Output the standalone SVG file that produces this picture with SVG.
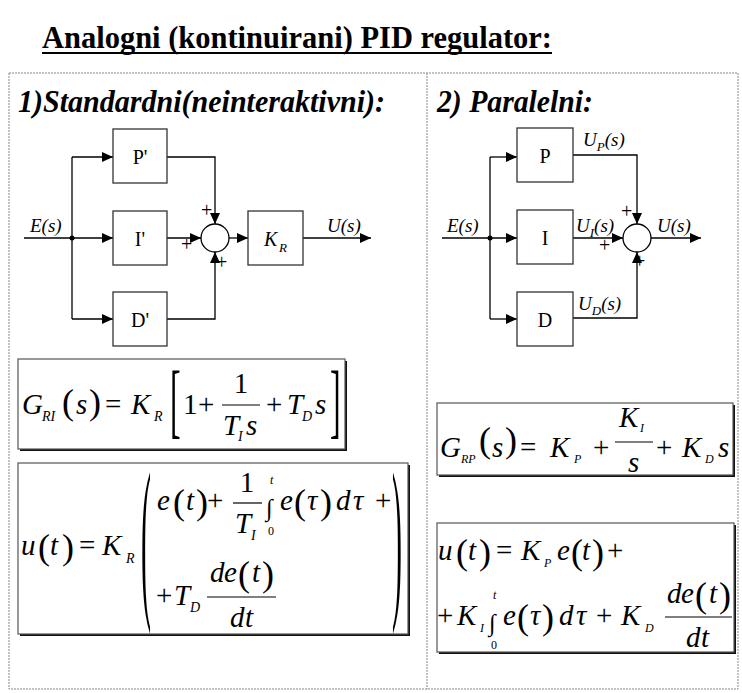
<svg xmlns="http://www.w3.org/2000/svg" width="742" height="693" viewBox="0 0 742 693" font-family="'Liberation Serif', 'Times New Roman', 'DejaVu Serif', serif">
<style>
.t{font-family:'Liberation Serif','Times New Roman','DejaVu Serif',serif;fill:#000}
.i{font-style:italic}
.b{font-weight:bold}
.m{font-size:29px}
.sb{font-size:14px}
.p{font-size:36px}
.bl{font-size:20px}
.lb{font-size:19px}
.pl{font-size:20px}
.box{fill:#fff;stroke:#333;stroke-width:1.3}
.fb{fill:#fff;stroke:#555;stroke-width:1.2}
.sh{fill:#111}
.ln{fill:none;stroke:#000;stroke-width:1.3}
.fr{fill:none;stroke:#888;stroke-width:1;stroke-dasharray:2 1}
.fl{stroke:#000;stroke-width:1.2}
</style>
<defs>
<marker id="ah" markerWidth="12" markerHeight="10" refX="11" refY="5" orient="auto" markerUnits="userSpaceOnUse">
<path d="M0,0 L11,5 L0,10 Z" fill="#000"/>
</marker>
</defs>
<rect width="742" height="693" fill="#fff"/>

<g id="title">
<text class="t b" x="42" y="48" font-size="31" font-weight="700" textLength="510" lengthAdjust="spacingAndGlyphs">Analogni (kontinuirani) PID regulator:</text>
<line x1="42" y1="53" x2="552" y2="53" stroke="#000" stroke-width="2.2"/>
</g>

<g id="frame">
<rect class="fr" x="9" y="73" width="729" height="616"/>
<line class="fr" x1="427" y1="73" x2="427" y2="689"/>
</g>

<g id="heading1"><text class="t b i" x="18" y="112" font-size="31" font-weight="700" font-style="italic" textLength="367" lengthAdjust="spacingAndGlyphs">1)Standardni(neinteraktivni):</text></g>
<g id="heading2"><text class="t b i" x="437" y="112" font-size="31" font-weight="700" font-style="italic" textLength="156" lengthAdjust="spacingAndGlyphs">2) Paralelni:</text></g>

<g id="connectors">
<path class="ln" d="M24 238 H113" marker-end="url(#ah)"/>
<path class="ln" d="M72 157 V319"/>
<path class="ln" d="M72 157 H113" marker-end="url(#ah)"/>
<path class="ln" d="M72 319 H113" marker-end="url(#ah)"/>
<path class="ln" d="M167 157 H215 V224" marker-end="url(#ah)"/>
<path class="ln" d="M167 238 H201" marker-end="url(#ah)"/>
<path class="ln" d="M167 319 H215 V252" marker-end="url(#ah)"/>
<path class="ln" d="M229 238 H248" marker-end="url(#ah)"/>
<path class="ln" d="M303 238 H371" marker-end="url(#ah)"/>
<circle cx="72" cy="238" r="2.5" fill="#000"/>

<path class="ln" d="M442 238 H517" marker-end="url(#ah)"/>
<path class="ln" d="M490 157 V319"/>
<path class="ln" d="M490 157 H517" marker-end="url(#ah)"/>
<path class="ln" d="M490 319 H517" marker-end="url(#ah)"/>
<path class="ln" d="M573 155 H637 V224" marker-end="url(#ah)"/>
<path class="ln" d="M573 238 H623" marker-end="url(#ah)"/>
<path class="ln" d="M573 318 H637 V252" marker-end="url(#ah)"/>
<path class="ln" d="M651 238 H701" marker-end="url(#ah)"/>
<circle cx="490" cy="238" r="2.5" fill="#000"/>
</g>

<g id="nodeP1"><rect class="box" x="113" y="129" width="54" height="54"/><text class="t bl" x="140" y="164" text-anchor="middle">P'</text></g>
<g id="nodeI1"><rect class="box" x="113" y="211" width="54" height="54"/><text class="t bl" x="140" y="246" text-anchor="middle">I'</text></g>
<g id="nodeD1"><rect class="box" x="113" y="292" width="54" height="54"/><text class="t bl" x="140" y="327" text-anchor="middle">D'</text></g>
<g id="sum1"><circle cx="215" cy="238" r="14" fill="#fff" stroke="#000" stroke-width="1.3"/>
<text class="t pl" x="201" y="217">+</text><text class="t pl" x="181" y="251">+</text><text class="t pl" x="216" y="269">+</text></g>
<g id="nodeKR"><rect class="box" x="248" y="211" width="55" height="54"/><text class="t i bl" x="264" y="246">K</text><text class="t i" font-size="13" x="279" y="252">R</text></g>
<g id="labels1">
<text class="t i lb" x="30" y="232">E(s)</text>
<text class="t i lb" x="327" y="232">U(s)</text>
</g>

<g id="nodeP2"><rect class="box" x="517" y="128" width="56" height="54"/><text class="t bl" x="545" y="163" text-anchor="middle">P</text></g>
<g id="nodeI2"><rect class="box" x="517" y="210" width="56" height="54"/><text class="t bl" x="545" y="245" text-anchor="middle">I</text></g>
<g id="nodeD2"><rect class="box" x="517" y="292" width="56" height="54"/><text class="t bl" x="545" y="327" text-anchor="middle">D</text></g>
<g id="sum2"><circle cx="637" cy="238" r="14" fill="#fff" stroke="#000" stroke-width="1.3"/>
<text class="t pl" x="621" y="218">+</text><text class="t pl" x="599" y="252">+</text><text class="t pl" x="634" y="268">+</text></g>
<g id="labels2">
<text class="t i lb" x="447" y="232">E(s)</text>
<text class="t i lb" x="583" y="146">U<tspan font-size="13" dy="5">P</tspan><tspan dy="-5">(s)</tspan></text>
<text class="t i lb" x="576" y="232">U<tspan font-size="13" dy="5">I</tspan><tspan dy="-5">(s)</tspan></text>
<text class="t i lb" x="657" y="232">U(s)</text>
<text class="t i lb" x="578" y="310">U<tspan font-size="13" dy="5">D</tspan><tspan dy="-5">(s)</tspan></text>
</g>

<g id="formulaG1">
<rect class="sh" x="20" y="361" width="327" height="90"/>
<rect class="fb" x="18" y="359" width="327" height="90"/>
<text class="t i m" x="22" y="414">G</text>
<text class="t i sb" x="42" y="421">RI</text>
<text class="t p" x="62" y="414">(</text>
<text class="t i m" x="76" y="414">s</text>
<text class="t p" x="89" y="414">)</text>
<text class="t m" x="105" y="414">=</text>
<text class="t i m" x="131" y="414">K</text>
<text class="t i sb" x="154" y="421">R</text>
<text class="t" font-size="32" transform="translate(170,428) scale(1,2.55)">[</text>
<text class="t m" x="183" y="414">1</text>
<text class="t m" x="198" y="414">+</text>
<text class="t m" x="241" y="393" text-anchor="middle">1</text>
<line class="fl" x1="222" y1="405" x2="260" y2="405"/>
<text class="t i m" x="223" y="435">T</text>
<text class="t i sb" x="238" y="441">I</text>
<text class="t i m" x="246" y="435">s</text>
<text class="t m" x="266" y="414">+</text>
<text class="t i m" x="287" y="414">T</text>
<text class="t i sb" x="302" y="421">D</text>
<text class="t i m" x="315" y="414">s</text>
<text class="t" font-size="32" transform="translate(330,428) scale(1,2.55)">]</text>
</g>

<g id="formulaU1">
<rect class="sh" x="20" y="465" width="390" height="171"/>
<rect class="fb" x="18" y="463" width="390" height="171"/>
<text class="t i m" x="21" y="555">u</text>
<text class="t p" x="38" y="559">(</text>
<text class="t i m" x="50" y="555">t</text>
<text class="t p" x="62" y="559">)</text>
<text class="t m" x="79" y="555">=</text>
<text class="t i m" x="102" y="555">K</text>
<text class="t i sb" x="126" y="563">R</text>
<text class="t" font-size="30" transform="translate(141,596) scale(1,5.9)">(</text>
<text class="t i m" x="157" y="510">e</text>
<text class="t p" x="173" y="514">(</text>
<text class="t i m" x="186" y="510">t</text>
<text class="t p" x="196" y="514">)</text>
<text class="t m" x="207" y="510">+</text>
<text class="t m" x="247" y="492" text-anchor="middle">1</text>
<line class="fl" x1="233" y1="503" x2="262" y2="503"/>
<text class="t i m" x="235" y="533">T</text>
<text class="t i sb" x="251" y="540">I</text>
<text class="t" font-size="24" x="266" y="516">∫</text>
<text class="t i" font-size="12" x="270" y="484">t</text>
<text class="t" font-size="12" x="268" y="535">0</text>
<text class="t i m" x="280" y="510">e</text>
<text class="t p" x="294" y="514">(</text>
<text class="t i m" x="307" y="510">τ</text>
<text class="t p" x="320" y="514">)</text>
<text class="t i m" x="336" y="510">d</text>
<text class="t i m" x="353" y="510">τ</text>
<text class="t m" x="375" y="510">+</text>
<text class="t m" x="156" y="605">+</text>
<text class="t i m" x="174" y="605">T</text>
<text class="t i sb" x="190" y="612">D</text>
<text class="t i m" x="210" y="582">d</text>
<text class="t i m" x="224" y="582">e</text>
<text class="t p" x="238" y="586">(</text>
<text class="t i m" x="252" y="582">t</text>
<text class="t p" x="262" y="586">)</text>
<line class="fl" x1="207" y1="597" x2="276" y2="597"/>
<text class="t i m" x="230" y="627">d</text>
<text class="t i m" x="245" y="627">t</text>
<text class="t" font-size="30" transform="translate(392,596) scale(1,5.9)">)</text>
</g>

<g id="formulaG2">
<rect class="sh" x="439" y="405" width="296" height="72"/>
<rect class="fb" x="437" y="403" width="296" height="72"/>
<text class="t i m" x="440" y="457">G</text>
<text class="t i" font-size="12" x="461" y="463">RP</text>
<text class="t p" x="479" y="452">(</text>
<text class="t i m" x="492" y="457">s</text>
<text class="t p" x="505" y="452">)</text>
<text class="t m" x="520" y="457">=</text>
<text class="t i m" x="550" y="457">K</text>
<text class="t i" font-size="12" x="574" y="463">P</text>
<text class="t m" x="593" y="457">+</text>
<text class="t i m" x="619" y="427">K</text>
<text class="t i" font-size="12" x="640" y="432">I</text>
<line class="fl" x1="615" y1="442" x2="653" y2="442"/>
<text class="t i m" x="628" y="472">s</text>
<text class="t m" x="656" y="457">+</text>
<text class="t i m" x="682" y="457">K</text>
<text class="t i" font-size="12" x="705" y="463">D</text>
<text class="t i m" x="718" y="457">s</text>
</g>

<g id="formulaU2">
<rect class="sh" x="439" y="525" width="297" height="129"/>
<rect class="fb" x="437" y="523" width="297" height="129"/>
<text class="t i m" x="438" y="560">u</text>
<text class="t p" x="456" y="564">(</text>
<text class="t i m" x="468" y="560">t</text>
<text class="t p" x="479" y="564">)</text>
<text class="t m" x="496" y="560">=</text>
<text class="t i m" x="521" y="560">K</text>
<text class="t i" font-size="12" x="544" y="567">P</text>
<text class="t i m" x="557" y="560">e</text>
<text class="t p" x="571" y="564">(</text>
<text class="t i m" x="582" y="560">t</text>
<text class="t p" x="592" y="564">)</text>
<text class="t m" x="607" y="560">+</text>
<text class="t m" x="437" y="625">+</text>
<text class="t i m" x="457" y="625">K</text>
<text class="t i" font-size="12" x="480" y="632">I</text>
<text class="t" font-size="24" x="489" y="631">∫</text>
<text class="t i" font-size="12" x="493" y="599">t</text>
<text class="t" font-size="12" x="491" y="649">0</text>
<text class="t i m" x="503" y="625">e</text>
<text class="t p" x="517" y="629">(</text>
<text class="t i m" x="530" y="625">τ</text>
<text class="t p" x="542" y="629">)</text>
<text class="t i m" x="559" y="625">d</text>
<text class="t i m" x="576" y="625">τ</text>
<text class="t m" x="596" y="625">+</text>
<text class="t i m" x="621" y="625">K</text>
<text class="t i" font-size="12" x="645" y="632">D</text>
<text class="t i m" x="667" y="603">d</text>
<text class="t i m" x="681" y="603">e</text>
<text class="t p" x="695" y="607">(</text>
<text class="t i m" x="709" y="603">t</text>
<text class="t p" x="719" y="607">)</text>
<line class="fl" x1="665" y1="617" x2="732" y2="617"/>
<text class="t i m" x="686" y="647">d</text>
<text class="t i m" x="701" y="647">t</text>
</g>
</svg>
